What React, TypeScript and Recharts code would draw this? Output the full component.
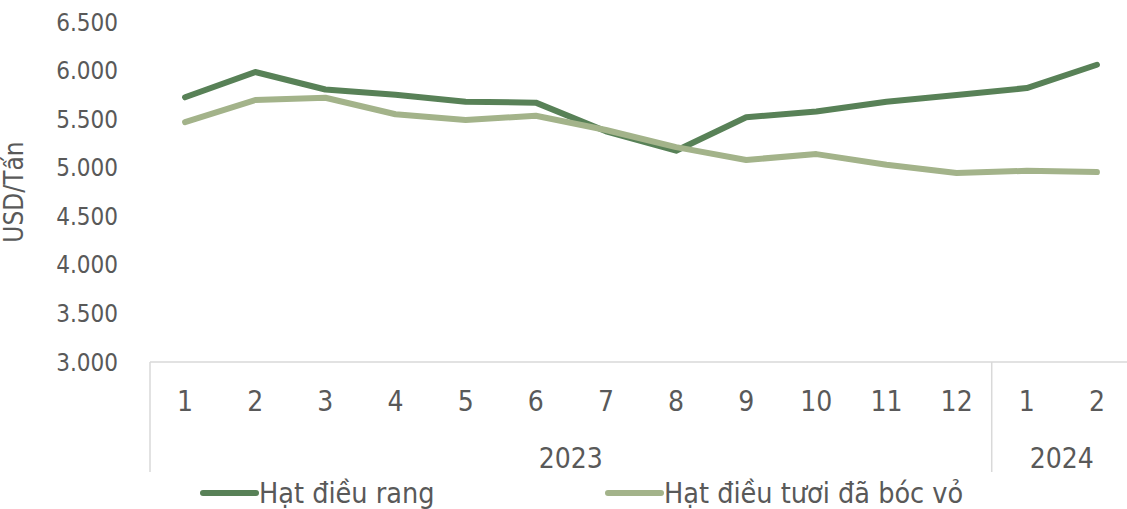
import React from 'react';
import { LineChart, Line, XAxis, YAxis, Legend } from 'recharts';

const months = ['1', '2', '3', '4', '5', '6', '7', '8', '9', '10', '11', '12', '1', '2'];
const years = ['2023', '2023', '2023', '2023', '2023', '2023', '2023', '2023', '2023', '2023', '2023', '2023', '2024', '2024'];
const roasted = [5725, 5985, 5805, 5750, 5680, 5670, 5375, 5175, 5520, 5578, 5680, 5748, 5820, 6060];
const peeled = [5470, 5697, 5720, 5550, 5490, 5535, 5388, 5212, 5080, 5140, 5030, 4945, 4968, 4955];
const yTicks = [3000, 3500, 4000, 4500, 5000, 5500, 6000, 6500];
const yearGroups = [
  { label: '2023', startIndex: 0, count: 12 },
  { label: '2024', startIndex: 12, count: 2 },
];
const seriesNames = ['Hạt điều rang', 'Hạt điều tươi đã bóc vỏ'];

const data = months.map((m, i) => ({
  key: `${years[i]}-${m}`,
  month: m,
  year: years[i],
  roasted: roasted[i],
  peeled: peeled[i],
}));

const FONT = '"DejaVu Sans Condensed", "DejaVu Sans", sans-serif';
const DARK = '#588157';
const LIGHT = '#a3b38a';
const TEXT = '#595959';
const AXIS = '#d9d9d9';

const CHART_W = 1133;
const CHART_H = 509;
const LEFT = 150;
const PLOT_W = CHART_W - LEFT - 1;
const BAND = PLOT_W / months.length;
const LEGEND_H = 40;
const TOP = 22;
const AXIS_Y = 362;
const XAXIS_H = CHART_H - LEGEND_H - AXIS_Y;

const MonthTick = (props: any) => {
  const { x, payload } = props;
  const y = AXIS_Y;
  const i = payload.index;
  const group = yearGroups.find((g) => g.startIndex === i);
  const centerGroup = yearGroups.find((g) => g.startIndex + Math.floor((g.count - 1) / 2) === i);
  return (
    <g>
      <text x={x} y={y + 49} textAnchor="middle" fontFamily={FONT} fontSize={28} fill={TEXT}>
        {months[i]}
      </text>
      {group && (
        <line x1={x - BAND / 2} x2={x - BAND / 2} y1={y} y2={y + 110} stroke={AXIS} strokeWidth={1.5} />
      )}
      {centerGroup && (
        <text
          x={x + (centerGroup.count % 2 === 0 ? BAND / 2 : 0)}
          y={y + 106}
          textAnchor="middle"
          fontFamily={FONT}
          fontSize={28}
          fill={TEXT}
        >
          {centerGroup.label}
        </text>
      )}
    </g>
  );
};

const renderLegend = () => {
  const colors = [DARK, LIGHT];
  const starts = [203, 608];
  return (
    <svg width={1127} height={LEGEND_H} style={{ display: 'block' }}>
      {seriesNames.map((n, i) => (
        <g key={n}>
          <line x1={starts[i]} x2={starts[i] + 53} y1={24} y2={24} stroke={colors[i]} strokeWidth={6} strokeLinecap="round" />
          <text x={starts[i] + 56} y={34} fontFamily={FONT} fontSize={28.5} fill={TEXT}>
            {n}
          </text>
        </g>
      ))}
    </svg>
  );
};

export default function App() {
  return (
    <div style={{ position: 'absolute', left: 0, top: 0, width: 1127, height: 509, overflow: 'hidden', background: '#fff' }}>
      <LineChart width={CHART_W} height={CHART_H} data={data} margin={{ top: TOP, right: 1, bottom: 0, left: 0 }}>
        <XAxis
          dataKey="key"
          interval={0}
          tick={<MonthTick />}
          tickLine={false}
          axisLine={{ stroke: AXIS, strokeWidth: 1.5 }}
          height={XAXIS_H}
          padding={{ left: BAND / 2, right: BAND / 2 }}
        />
        <YAxis
          domain={[3000, 6500]}
          ticks={yTicks}
          interval={0}
          width={LEFT}
          axisLine={false}
          tickLine={false}
          tickSize={0}
          tickMargin={32}
          tickFormatter={(v: number) => v.toLocaleString('de-DE')}
          tick={{ fontFamily: FONT, fontSize: 24, fill: TEXT }}
          label={{
            value: 'USD/Tấn',
            angle: -90,
            position: 'insideLeft',
            dx: 9,
            style: { fontFamily: FONT, fontSize: 26, fill: TEXT, textAnchor: 'middle' },
          }}
        />
        <Legend verticalAlign="bottom" height={LEGEND_H} content={renderLegend} wrapperStyle={{ left: 0, bottom: 0, width: 1127 }} />
        <Line dataKey="roasted" name={seriesNames[0]} stroke={DARK} strokeWidth={6} dot={false} strokeLinecap="round" strokeLinejoin="round" isAnimationActive={false} />
        <Line dataKey="peeled" name={seriesNames[1]} stroke={LIGHT} strokeWidth={6} dot={false} strokeLinecap="round" strokeLinejoin="round" isAnimationActive={false} />
      </LineChart>
    </div>
  );
}
